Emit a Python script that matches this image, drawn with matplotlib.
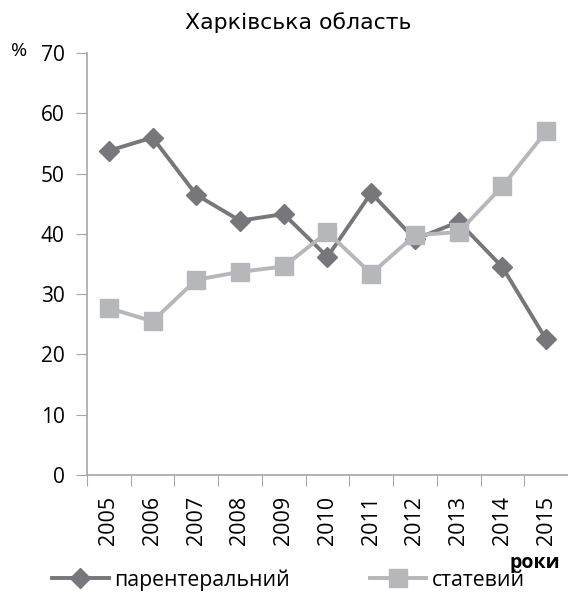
import matplotlib
matplotlib.use('Agg')
import matplotlib.pyplot as plt

years = ['2005', '2006', '2007', '2008', '2009', '2010', '2011', '2012', '2013', '2014', '2015']
parenteral = [53.8, 56.0, 46.5, 42.2, 43.3, 36.2, 46.8, 39.1, 42.0, 34.5, 22.5]
sexual = [27.7, 25.5, 32.4, 33.7, 34.6, 40.3, 33.4, 39.8, 40.3, 47.9, 57.0]
labels = ['парентеральний', 'статевий']

dark = '#77777b'
light = '#b6b7ba'
axis_gray = '#a6a6a6'

plt.rcParams['font.family'] = ['Open Sans', 'DejaVu Sans']

fig = plt.figure(figsize=(5.68, 5.95), dpi=100)
ax = fig.add_axes([0.153, 0.2017, 0.847, 0.709])

xs = list(range(len(years)))
ax.plot(xs, parenteral, color=dark, linewidth=2.8, marker='D', markersize=10,
        label=labels[0])
ax.plot(xs, sexual, color=light, linewidth=2.8, marker='s', markersize=13,
        label=labels[1])

ax.set_xlim(-0.5, len(years) - 0.5)
ax.set_ylim(0, 70)
ax.set_yticks(range(0, 71, 10))

# category boundaries as major ticks, labels at the centres
ax.set_xticks([x - 0.5 for x in xs])
ax.set_xticklabels([])
ax.set_xticks(xs, minor=True)
ax.set_xticklabels(years, minor=True, rotation=90, fontsize=15.5)
ax.tick_params(axis='x', which='minor', length=0, pad=15)
ax.tick_params(axis='x', which='major', length=8, color=axis_gray)
ax.tick_params(axis='y', length=8, color=axis_gray, labelsize=15, pad=8)

for side in ['top', 'right']:
    ax.spines[side].set_visible(False)
for side in ['left', 'bottom']:
    ax.spines[side].set_color(axis_gray)
    ax.spines[side].set_linewidth(1.2)

fig.text(0.525, 0.962, 'Харківська область', ha='center', va='center',
         fontsize=15.8, family='DejaVu Sans')
fig.text(0.034, 0.915, '%', ha='center', va='center', fontsize=14)
fig.text(0.987, 0.053, 'роки', ha='right', va='center', fontsize=14, fontweight='bold')

fig.legend(loc='center left', bbox_to_anchor=(0.092, 0.025), ncol=2, frameon=False,
           fontsize=15.3, handlelength=2.65, handletextpad=0.28, columnspacing=3.75,
           borderpad=0, borderaxespad=0)

fig.savefig('out.png', dpi=100)
